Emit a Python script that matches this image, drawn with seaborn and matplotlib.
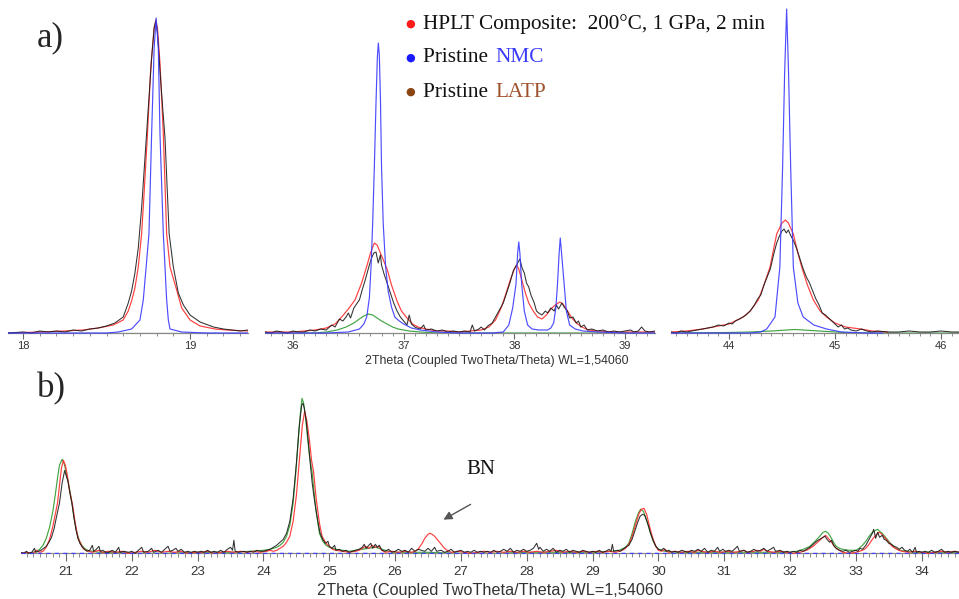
import matplotlib
matplotlib.use("Agg")
import matplotlib.pyplot as plt
from matplotlib.ticker import MultipleLocator, FormatStrFormatter
import numpy as np
import pandas as pd
import seaborn as sns

# ---------------------------------------------------------------------------
# XRD intensities (arbitrary units) as (2theta, intensity) pairs
# ---------------------------------------------------------------------------

# panel a, window 1: (003) reflection around 18.8 deg
a1_composite = [(17.91, 0), (18.1, 1), (18.25, 2), (18.36, 3), (18.45, 5), (18.54, 8), (18.6, 13),
                (18.63, 22), (18.65, 32), (18.67, 45), (18.69, 66), (18.71, 99), (18.725, 140),
                (18.745, 199), (18.765, 266), (18.785, 305), (18.795, 313), (18.805, 305),
                (18.82, 270), (18.84, 199), (18.86, 99), (18.88, 66), (18.92, 43), (18.95, 25),
                (19.0, 13), (19.06, 7), (19.15, 4), (19.22, 3), (19.347, 2)]
a1_sample = [(17.91, 0), (18.0, 1), (18.05, 0), (18.1, 2), (18.15, 1), (18.2, 2), (18.25, 1),
             (18.3, 3), (18.35, 2), (18.4, 4), (18.45, 5), (18.5, 7), (18.55, 10), (18.6, 16),
             (18.63, 30), (18.65, 42), (18.67, 60), (18.69, 85), (18.71, 125), (18.73, 175),
             (18.75, 225), (18.77, 275), (18.785, 305), (18.795, 312), (18.805, 300),
             (18.82, 262), (18.835, 228), (18.85, 195), (18.875, 99), (18.90, 66), (18.93, 40),
             (18.96, 28), (19.0, 18), (19.06, 11), (19.14, 6), (19.2, 4), (19.25, 3), (19.3, 2),
             (19.347, 3)]
a1_nmc = [(17.91, 0), (18.5, 0), (18.57, 1), (18.65, 4), (18.70, 13), (18.72, 33), (18.754, 99),
          (18.77, 199), (18.785, 285), (18.797, 315), (18.81, 285), (18.82, 199), (18.84, 99),
          (18.86, 33), (18.87, 13), (18.88, 4), (18.95, 1), (19.1, 0), (19.347, 0)]
a1_latp = [(17.91, 0), (18.5, 0), (19.0, 0), (19.347, 0)]

# panel a, window 2: 36.5 - 38.5 deg
a2_composite = [(35.747, 1), (35.9, 1), (36.0, 1), (36.1, 2), (36.2, 3), (36.3, 5), (36.38, 9),
                (36.44, 16), (36.5, 24), (36.56, 33), (36.62, 50), (36.67, 68), (36.7, 80),
                (36.735, 90), (36.76, 88), (36.79, 80), (36.82, 72), (36.85, 64), (36.89, 48),
                (36.94, 32), (36.98, 22), (37.03, 15), (37.08, 9), (37.13, 6), (37.2, 4), (37.3, 2),
                (37.4, 2), (37.5, 1), (37.6, 2), (37.7, 3), (37.77, 6), (37.83, 13), (37.88, 25),
                (37.92, 38), (37.96, 52), (38.0, 64), (38.02, 68), (38.04, 64), (38.07, 52),
                (38.1, 40), (38.13, 30), (38.17, 22), (38.21, 16), (38.25, 14), (38.29, 18),
                (38.33, 24), (38.37, 28), (38.41, 31), (38.44, 29), (38.48, 22), (38.52, 15),
                (38.56, 10), (38.61, 6), (38.67, 3), (38.75, 2), (38.9, 1), (39.1, 1), (39.271, 1)]
a2_sample = [(35.747, 1), (35.8, 0), (35.85, 2), (35.9, 1), (35.95, 0), (36.0, 2), (36.05, 1),
             (36.1, 1), (36.15, 3), (36.2, 2), (36.25, 4), (36.3, 3), (36.35, 8), (36.38, 6),
             (36.42, 14), (36.45, 12), (36.48, 16), (36.5, 20), (36.52, 15), (36.55, 25),
             (36.58, 30), (36.6, 33), (36.63, 45), (36.65, 52), (36.67, 60), (36.69, 68),
             (36.71, 75), (36.73, 80), (36.75, 81), (36.77, 70), (36.79, 78), (36.8, 68),
             (36.82, 60), (36.85, 50), (36.88, 40), (36.91, 30), (36.94, 22), (36.97, 16),
             (37.0, 12), (37.03, 8), (37.05, 18), (37.07, 9), (37.1, 6), (37.12, 5), (37.15, 4),
             (37.18, 8), (37.2, 3), (37.25, 4), (37.3, 2), (37.35, 3), (37.4, 1), (37.45, 2),
             (37.5, 1), (37.55, 2), (37.6, 1), (37.62, 8), (37.64, 2), (37.68, 4), (37.7, 6),
             (37.73, 3), (37.76, 7), (37.8, 10), (37.84, 18), (37.87, 24), (37.9, 30), (37.93, 40),
             (37.96, 50), (37.99, 62), (38.01, 66), (38.03, 70), (38.05, 74), (38.07, 65),
             (38.09, 60), (38.11, 50), (38.13, 46), (38.15, 38), (38.18, 30), (38.2, 22),
             (38.22, 20), (38.25, 18), (38.28, 22), (38.3, 20), (38.33, 25), (38.36, 22),
             (38.38, 28), (38.4, 24), (38.43, 30), (38.45, 26), (38.48, 22), (38.5, 15),
             (38.53, 16), (38.56, 10), (38.58, 12), (38.6, 6), (38.63, 8), (38.66, 3), (38.7, 4),
             (38.75, 2), (38.8, 3), (38.85, 1), (38.9, 2), (38.95, 1), (39.0, 2), (39.05, 3),
             (39.08, 1), (39.12, 2), (39.15, 6), (39.18, 2), (39.22, 1), (39.271, 2)]
a2_nmc = [(35.747, 0), (36.3, 0), (36.5, 1), (36.6, 4), (36.64, 9), (36.666, 16), (36.69, 35),
          (36.705, 66), (36.72, 110), (36.735, 166), (36.75, 230), (36.762, 275), (36.771, 290),
          (36.78, 278), (36.79, 235), (36.80, 166), (36.815, 110), (36.837, 66), (36.86, 42),
          (36.89, 26), (36.92, 16), (36.96, 12), (37.0, 9), (37.07, 5), (37.15, 3), (37.3, 1),
          (37.5, 0), (37.8, 0), (37.9, 1), (37.95, 8), (37.985, 25), (38.015, 49), (38.03, 80),
          (38.04, 91), (38.05, 80), (38.066, 49), (38.09, 22), (38.12, 8), (38.16, 4), (38.22, 3),
          (38.3, 3), (38.33, 5), (38.355, 10), (38.375, 25), (38.39, 49), (38.405, 80),
          (38.415, 95), (38.425, 82), (38.45, 49), (38.47, 22), (38.5, 8), (38.55, 4),
          (38.62, 2), (38.75, 1), (39.0, 0), (39.271, 0)]
a2_latp = [(35.747, 0), (36.2, 0), (36.3, 1), (36.4, 3), (36.48, 6), (36.55, 10), (36.6, 14),
           (36.64, 17), (36.68, 19), (36.72, 18), (36.76, 15), (36.8, 12), (36.85, 9), (36.9, 6),
           (36.95, 4), (37.0, 3), (37.05, 2), (37.15, 1), (37.3, 0), (39.271, 0)]

# panel a, window 3: (104) reflection around 44.5 deg
a3_composite = [(43.453, 1), (43.6, 2), (43.755, 4), (43.9, 7), (44.0, 9), (44.135, 16), (44.2, 22),
                (44.276, 33), (44.33, 48), (44.387, 66), (44.45, 99), (44.5, 110), (44.532, 113),
                (44.56, 110), (44.607, 99), (44.65, 80), (44.686, 66), (44.74, 48), (44.796, 33),
                (44.86, 22), (44.92, 16), (45.0, 10), (45.1, 6), (45.24, 4), (45.35, 2), (45.5, 1)]
a3_sample = [(43.453, 1), (43.5, 0), (43.55, 2), (43.6, 1), (43.65, 2), (43.7, 3), (43.75, 4),
             (43.8, 5), (43.85, 6), (43.9, 8), (43.95, 7), (44.0, 10), (44.03, 9), (44.06, 12),
             (44.1, 14), (44.13, 16), (44.16, 18), (44.2, 22), (44.24, 28), (44.27, 34), (44.3, 38),
             (44.33, 48), (44.36, 56), (44.39, 64), (44.42, 78), (44.45, 90), (44.48, 98),
             (44.5, 102), (44.52, 104), (44.54, 100), (44.56, 103), (44.58, 98), (44.61, 92),
             (44.64, 84), (44.67, 74), (44.7, 64), (44.73, 56), (44.76, 50), (44.79, 42),
             (44.82, 34), (44.85, 28), (44.88, 20), (44.91, 18), (44.94, 15), (44.97, 12),
             (45.0, 9), (45.03, 6), (45.06, 8), (45.09, 4), (45.12, 5), (45.15, 3), (45.2, 2),
             (45.25, 4), (45.3, 2), (45.35, 1), (45.4, 2), (45.5, 1), (45.6, 1), (45.7, 2),
             (45.8, 1), (45.9, 1), (46.0, 2), (46.1, 1), (46.17, 1)]
a3_nmc = [(43.453, 0), (44.2, 0), (44.3, 1), (44.356, 4), (44.434, 16), (44.48, 66), (44.506, 166),
          (44.525, 260), (44.544, 324), (44.562, 260), (44.582, 166), (44.607, 66), (44.65, 30),
          (44.70, 16), (44.8, 8), (44.92, 4), (45.06, 1), (45.3, 0), (45.45, 0)]
a3_latp = [(43.453, 0), (44.0, 0.5), (44.2, 1), (44.4, 2), (44.55, 3), (44.62, 3.5), (44.7, 3),
           (44.85, 2), (45.0, 1), (45.2, 0), (46.17, 0)]

# panel b: 20.3 - 34.6 deg
b_composite = [(20.316, 0), (20.4, 1), (20.5, 0), (20.55, 3), (20.6, 1), (20.65, 2), (20.7, 6),
               (20.75, 14), (20.8, 27), (20.84, 40), (20.87, 50), (20.9, 68), (20.93, 85),
               (20.96, 93), (20.99, 88), (21.02, 78), (21.05, 64), (21.1, 48), (21.14, 30),
               (21.18, 16), (21.22, 10), (21.26, 5), (21.3, 3), (21.35, 2), (21.4, 1), (21.5, 3),
               (21.55, 1), (21.65, 2), (21.75, 1), (21.85, 2), (21.95, 0), (22.05, 1), (22.15, 2),
               (22.25, 1), (22.35, 3), (22.45, 1), (22.55, 2), (22.65, 1), (22.75, 2), (22.85, 0),
               (22.95, 1), (23.05, 1), (23.15, 2), (23.25, 0), (23.35, 1), (23.45, 2), (23.55, 1),
               (23.65, 2), (23.75, 1), (23.85, 2), (23.95, 1), (24.05, 2), (24.1, 3), (24.15, 2),
               (24.2, 3), (24.25, 5), (24.3, 7), (24.35, 11), (24.4, 17), (24.45, 32), (24.5, 58),
               (24.55, 97), (24.59, 128), (24.625, 142), (24.66, 132), (24.7, 112), (24.73, 93),
               (24.76, 82), (24.8, 55), (24.85, 30), (24.89, 17), (24.95, 10), (25.0, 7),
               (25.05, 4), (25.1, 3), (25.2, 2), (25.3, 1), (25.4, 2), (25.45, 3), (25.5, 5),
               (25.55, 7), (25.6, 5), (25.65, 8), (25.7, 6), (25.75, 7), (25.8, 3), (25.85, 1),
               (25.95, 2), (26.05, 1), (26.15, 2), (26.25, 1), (26.3, 2), (26.35, 4), (26.38, 7),
               (26.41, 10), (26.45, 15), (26.5, 19), (26.53, 20), (26.56, 19), (26.6, 17),
               (26.65, 13), (26.7, 9), (26.75, 5), (26.79, 3), (26.85, 1), (26.95, 2), (27.05, 1),
               (27.15, 0), (27.25, 1), (27.35, 2), (27.45, 1), (27.55, 2), (27.65, 1), (27.75, 2),
               (27.85, 1), (27.95, 2), (28.05, 1), (28.15, 2), (28.25, 1), (28.35, 2), (28.45, 3),
               (28.55, 1), (28.65, 2), (28.75, 1), (28.85, 2), (28.95, 1), (29.05, 2), (29.15, 1),
               (29.25, 2), (29.35, 1), (29.45, 3), (29.5, 5), (29.55, 9), (29.6, 17), (29.65, 28),
               (29.7, 39), (29.74, 44), (29.78, 45), (29.82, 39), (29.85, 31), (29.88, 23),
               (29.92, 14), (29.96, 7), (30.0, 3), (30.05, 2), (30.1, 4), (30.15, 1), (30.25, 2),
               (30.35, 1), (30.45, 2), (30.55, 1), (30.6, 3), (30.65, 2), (30.75, 1), (30.85, 2),
               (30.95, 1), (31.05, 2), (31.15, 1), (31.25, 2), (31.3, 3), (31.35, 1), (31.45, 2),
               (31.5, 3), (31.55, 2), (31.6, 4), (31.65, 2), (31.75, 1), (31.85, 2), (31.95, 1),
               (32.05, 0), (32.15, 1), (32.2, 2), (32.25, 3), (32.3, 5), (32.35, 7), (32.4, 10),
               (32.45, 13), (32.5, 16), (32.54, 18), (32.58, 15), (32.62, 12), (32.66, 8),
               (32.7, 5), (32.75, 3), (32.8, 1), (32.9, 0), (33.0, 1), (33.05, 2), (33.1, 3),
               (33.15, 5), (33.2, 9), (33.25, 14), (33.3, 18), (33.35, 21), (33.38, 20),
               (33.42, 17), (33.46, 14), (33.5, 11), (33.55, 7), (33.6, 5), (33.65, 3), (33.7, 2),
               (33.8, 1), (33.9, 2), (34.0, 1), (34.1, 0), (34.2, 1), (34.3, 2), (34.4, 1),
               (34.5, 2), (34.566, 1)]
b_sample = [(20.316, 1), (20.35, 0), (20.4, 2), (20.43, 0), (20.48, 1), (20.52, 5), (20.54, 1),
            (20.58, 2), (20.62, 3), (20.66, 5), (20.7, 7), (20.74, 11), (20.78, 16), (20.82, 25),
            (20.86, 38), (20.9, 50), (20.94, 70), (20.98, 83), (21.0, 78), (21.03, 72), (21.06, 60),
            (21.09, 50), (21.12, 36), (21.15, 24), (21.18, 15), (21.21, 10), (21.25, 6), (21.28, 4),
            (21.32, 2), (21.36, 3), (21.4, 8), (21.42, 2), (21.46, 4), (21.5, 7), (21.52, 2),
            (21.56, 3), (21.6, 1), (21.65, 1), (21.7, 3), (21.75, 1), (21.8, 6), (21.82, 1),
            (21.88, 2), (21.95, 1), (22.0, 2), (22.05, 0), (22.1, 3), (22.15, 6), (22.18, 1),
            (22.25, 2), (22.3, 5), (22.33, 1), (22.4, 3), (22.45, 1), (22.5, 4), (22.55, 7),
            (22.58, 2), (22.62, 3), (22.67, 5), (22.7, 2), (22.75, 4), (22.8, 1), (22.85, 2),
            (22.9, 1), (22.95, 2), (23.0, 1), (23.05, 2), (23.1, 1), (23.15, 3), (23.2, 1),
            (23.25, 2), (23.3, 1), (23.35, 3), (23.4, 1), (23.45, 4), (23.5, 6), (23.53, 3),
            (23.55, 13), (23.57, 2), (23.62, 1), (23.7, 2), (23.75, 1), (23.8, 2), (23.85, 1),
            (23.9, 3), (23.95, 2), (24.0, 2), (24.05, 3), (24.1, 4), (24.15, 6), (24.2, 8),
            (24.25, 11), (24.3, 14), (24.35, 20), (24.4, 32), (24.45, 55), (24.5, 90),
            (24.54, 125), (24.58, 148), (24.6, 150), (24.62, 145), (24.65, 132), (24.68, 112),
            (24.71, 90), (24.74, 70), (24.77, 55), (24.8, 42), (24.83, 30), (24.86, 20),
            (24.9, 14), (24.94, 10), (24.98, 12), (25.0, 7), (25.04, 5), (25.08, 8), (25.1, 3),
            (25.15, 4), (25.2, 2), (25.25, 3), (25.3, 1), (25.35, 2), (25.4, 3), (25.45, 4),
            (25.5, 6), (25.53, 9), (25.56, 5), (25.6, 8), (25.63, 10), (25.66, 5), (25.7, 9),
            (25.73, 6), (25.76, 8), (25.8, 3), (25.85, 2), (25.9, 4), (25.95, 1), (26.0, 2),
            (26.05, 4), (26.1, 2), (26.15, 3), (26.2, 1), (26.25, 5), (26.3, 2), (26.35, 4),
            (26.4, 3), (26.45, 2), (26.5, 5), (26.55, 2), (26.6, 6), (26.63, 2), (26.7, 3),
            (26.75, 1), (26.8, 2), (26.85, 4), (26.9, 1), (26.95, 2), (27.0, 3), (27.05, 1),
            (27.1, 2), (27.15, 1), (27.2, 3), (27.25, 1), (27.3, 2), (27.35, 1), (27.4, 2),
            (27.45, 1), (27.5, 3), (27.55, 1), (27.6, 2), (27.65, 4), (27.7, 2), (27.75, 5),
            (27.8, 1), (27.85, 3), (27.9, 2), (27.95, 4), (28.0, 2), (28.05, 3), (28.1, 5),
            (28.15, 10), (28.18, 4), (28.2, 6), (28.25, 2), (28.3, 4), (28.35, 2), (28.4, 5),
            (28.45, 1), (28.5, 3), (28.55, 2), (28.6, 4), (28.65, 1), (28.7, 3), (28.75, 2),
            (28.8, 1), (28.85, 3), (28.9, 2), (28.95, 1), (29.0, 2), (29.05, 1), (29.1, 3),
            (29.15, 1), (29.2, 2), (29.25, 4), (29.28, 2), (29.3, 9), (29.32, 2), (29.38, 3),
            (29.42, 2), (29.46, 4), (29.5, 6), (29.55, 8), (29.6, 14), (29.64, 22), (29.68, 30),
            (29.72, 37), (29.76, 39), (29.79, 38), (29.82, 33), (29.85, 27), (29.88, 20),
            (29.92, 13), (29.96, 7), (30.0, 4), (30.04, 3), (30.08, 5), (30.12, 2), (30.16, 3),
            (30.2, 1), (30.25, 2), (30.3, 1), (30.35, 3), (30.4, 2), (30.45, 1), (30.5, 3),
            (30.55, 2), (30.6, 4), (30.65, 2), (30.7, 5), (30.75, 1), (30.8, 3), (30.85, 2),
            (30.9, 6), (30.93, 2), (30.98, 4), (31.02, 2), (31.07, 3), (31.12, 2), (31.17, 5),
            (31.2, 7), (31.23, 2), (31.3, 3), (31.35, 1), (31.4, 2), (31.45, 4), (31.5, 2),
            (31.55, 3), (31.6, 5), (31.65, 2), (31.7, 4), (31.75, 6), (31.78, 2), (31.85, 3),
            (31.9, 1), (31.95, 2), (32.0, 1), (32.05, 2), (32.1, 1), (32.15, 3), (32.2, 2),
            (32.25, 4), (32.3, 6), (32.35, 9), (32.4, 12), (32.45, 14), (32.5, 16), (32.53, 17),
            (32.56, 14), (32.6, 11), (32.63, 13), (32.66, 8), (32.7, 5), (32.75, 3), (32.8, 2),
            (32.85, 3), (32.9, 1), (32.95, 2), (33.0, 3), (33.03, 2), (33.06, 5), (33.1, 4),
            (33.15, 8), (33.2, 14), (33.25, 20), (33.27, 24), (33.3, 15), (33.33, 21),
            (33.36, 16), (33.4, 18), (33.43, 14), (33.46, 13), (33.5, 10), (33.54, 9),
            (33.58, 7), (33.62, 6), (33.66, 4), (33.7, 6), (33.74, 3), (33.78, 2), (33.82, 4),
            (33.86, 1), (33.9, 6), (33.92, 1), (33.96, 2), (34.0, 1), (34.05, 2), (34.1, 1),
            (34.15, 3), (34.2, 1), (34.25, 2), (34.3, 4), (34.35, 1), (34.4, 2), (34.45, 1),
            (34.5, 2), (34.566, 1)]
b_latp = [(20.316, 0), (20.4, 0), (20.5, 1), (20.55, 2), (20.6, 4), (20.65, 8), (20.7, 15),
          (20.75, 26), (20.8, 42), (20.84, 60), (20.87, 75), (20.9, 88), (20.94, 94), (20.97, 90),
          (21.0, 82), (21.03, 72), (21.06, 62), (21.09, 50), (21.12, 36), (21.16, 22), (21.2, 13),
          (21.24, 8), (21.28, 5), (21.33, 3), (21.4, 2), (21.5, 1), (21.7, 1), (22.0, 0),
          (22.5, 0), (23.0, 1), (23.5, 1), (23.8, 2), (24.0, 3), (24.1, 4), (24.2, 6), (24.25, 8),
          (24.3, 11), (24.35, 17), (24.4, 28), (24.45, 50), (24.49, 80), (24.53, 115),
          (24.56, 140), (24.585, 155), (24.61, 150), (24.64, 135), (24.67, 115), (24.7, 97),
          (24.74, 80), (24.77, 60), (24.8, 42), (24.85, 20), (24.9, 12), (24.95, 8), (25.0, 6),
          (25.1, 4), (25.2, 3), (25.3, 2), (25.4, 3), (25.5, 4), (25.6, 5), (25.7, 6), (25.8, 4),
          (25.9, 2), (26.0, 1), (26.5, 1), (27.0, 0), (27.5, 0), (28.0, 1), (28.5, 1), (29.0, 1),
          (29.3, 2), (29.4, 3), (29.5, 6), (29.55, 10), (29.6, 20), (29.65, 32), (29.7, 41),
          (29.73, 44), (29.77, 42), (29.8, 37), (29.84, 29), (29.88, 20), (29.92, 12),
          (29.96, 7), (30.0, 4), (30.1, 2), (30.3, 1), (30.8, 1), (31.3, 1), (31.8, 1), (32.0, 1),
          (32.1, 2), (32.2, 4), (32.3, 7), (32.38, 12), (32.45, 17), (32.5, 21), (32.54, 22),
          (32.58, 20), (32.62, 16), (32.66, 11), (32.7, 7), (32.75, 5), (32.8, 4), (32.9, 3),
          (33.0, 3), (33.05, 5), (33.1, 8), (33.15, 12), (33.2, 17), (33.25, 21), (33.3, 23),
          (33.33, 24), (33.36, 22), (33.4, 20), (33.45, 16), (33.5, 12), (33.55, 8), (33.6, 5),
          (33.67, 3), (33.75, 2), (33.9, 1), (34.2, 1), (34.566, 1)]
b_nmc = [(20.316, 0), (34.566, 0)]

# axis windows (2theta limits)
a_windows = [(17.91, 19.347), (35.747, 39.271), (43.453, 46.17)]
b_window = (20.316, 34.566)
axis_title = "2Theta (Coupled TwoTheta/Theta) WL=1,54060"

legend_rows = [("HPLT Composite:  200\u00b0C, 1 GPa, 2 min", None, "#ff1a1a"),
               ("Pristine ", "NMC", "#1a1aff"),
               ("Pristine ", "LATP", "#8b4513")]
label_colors = {"NMC": "#3a3aff", "LATP": "#a0522d"}

# ---------------------------------------------------------------------------
C_RED, C_BLUE, C_BLACK, C_GREEN = "#ff2a2a", "#3a3aff", "#1a1a1a", "#2e9a2e"

sns.set_style("white")
plt.rcParams["font.family"] = ["Liberation Sans", "DejaVu Sans"]

W, H = 959, 599
fig = plt.figure(figsize=(W / 100, H / 100), dpi=100)


def box(x0, x1, ytop, ybase, below=1.0):
    """Axes rectangle in figure fractions from pixel edges."""
    return [x0 / W, (H - ybase - below) / H, (x1 - x0) / W, (ybase + below - ytop) / H]


def frame(pairs):
    return pd.DataFrame(pairs, columns=["two_theta", "intensity"])


def trace(ax, pairs, color, z, lw=0.85, alpha=0.9, ls="-"):
    sns.lineplot(data=frame(pairs), x="two_theta", y="intensity", ax=ax, color=color,
                 lw=lw, alpha=alpha, estimator=None, sort=False, zorder=z, linestyle=ls)


def style_axis(ax, xlim, ylim, lab_size, maj_len, min_len, pad, direction="out"):
    ax.set_xlim(*xlim)
    ax.set_ylim(*ylim)
    for s in ("left", "top", "right"):
        ax.spines[s].set_visible(False)
    ax.spines["bottom"].set_position(("data", 0))
    ax.spines["bottom"].set_color("#8a8a8a")
    ax.spines["bottom"].set_linewidth(0.9)
    ax.set_yticks([])
    ax.xaxis.set_major_locator(MultipleLocator(1))
    ax.xaxis.set_minor_locator(MultipleLocator(0.1))
    ax.xaxis.set_major_formatter(FormatStrFormatter("%d"))
    ax.tick_params(axis="x", which="major", direction=direction, length=maj_len, width=0.8,
                   color="#6a6a6a", labelsize=lab_size, labelcolor="#333333", pad=pad,
                   bottom=True)
    ax.tick_params(axis="x", which="minor", direction=direction, length=min_len, width=0.7,
                   color="#8a8a8a", bottom=True)
    ax.set_xlabel("")
    ax.set_ylabel("")
    ax.patch.set_alpha(0)


# ---- panel a -------------------------------------------------------------
a_px = [(8, 248), (265, 655), (671, 959)]
a_series = [(a1_latp, a1_composite, a1_sample, a1_nmc),
            (a2_latp, a2_composite, a2_sample, a2_nmc),
            (a3_latp, a3_composite, a3_sample, a3_nmc)]
for (x0, x1), lims, (latp, comp, samp, nmc) in zip(a_px, a_windows, a_series):
    ax = fig.add_axes(box(x0, x1, 5, 333))
    trace(ax, latp, C_GREEN, 1)
    trace(ax, comp, C_RED, 2)
    trace(ax, samp, C_BLACK, 3, lw=0.75)
    trace(ax, nmc, C_BLUE, 4)
    style_axis(ax, lims, (-1, 328), 8, 4, 2.2, 2)

fig.text(497 / W, 1 - 361 / H, axis_title, ha="center", va="center", fontsize=8.9,
         color="#333333")

# ---- panel b -------------------------------------------------------------
axb = fig.add_axes(box(21, 959, 380, 553.3))
trace(axb, b_latp, C_GREEN, 2)
trace(axb, b_composite, C_RED, 3)
trace(axb, b_sample, C_BLACK, 4, lw=0.75)
trace(axb, b_nmc, C_BLUE, 5, lw=1.0, ls=(0, (3, 3)))
style_axis(axb, b_window, (-1, 173.3), 9.5, 6, 3, 3)
fig.text(490 / W, 1 - 591 / H, axis_title, ha="center", va="center", fontsize=11.7,
         color="#333333")

# ---- annotations ------------------------------------------------------------
serif = ["Liberation Serif", "DejaVu Serif"]
fig.text(37 / W, 1 - 38 / H, "a)", ha="left", va="center", fontsize=25, family=serif)
fig.text(37 / W, 1 - 389 / H, "b)", ha="left", va="center", fontsize=25, family=serif)

rows_y = [24, 58, 92]
for (txt, colored, dot), y in zip(legend_rows, rows_y):
    fig.text(410 / W, 1 - y / H, "\u25cf", ha="center", va="center", fontsize=8,
             color=dot, family=["DejaVu Sans"])
    fig.text(423 / W, 1 - y / H, txt, ha="left", va="center", fontsize=15.3, family=serif,
             color="#111111")
    if colored:
        fig.text(495 / W, 1 - y / H, colored, ha="left", va="center", fontsize=15.3,
                 family=serif, color=label_colors[colored])

fig.text(481 / W, 1 - 470 / H, "BN", ha="center", va="center", fontsize=15, family=serif,
         color="#111111")
fig.add_artist(matplotlib.patches.FancyArrowPatch(
    (473 / W, 1 - 503 / H), (441 / W, 1 - 521 / H), transform=fig.transFigure,
    arrowstyle="-|>,head_length=5,head_width=2.5", color="#555555", lw=1.0))

fig.savefig("out.png", dpi=100)
